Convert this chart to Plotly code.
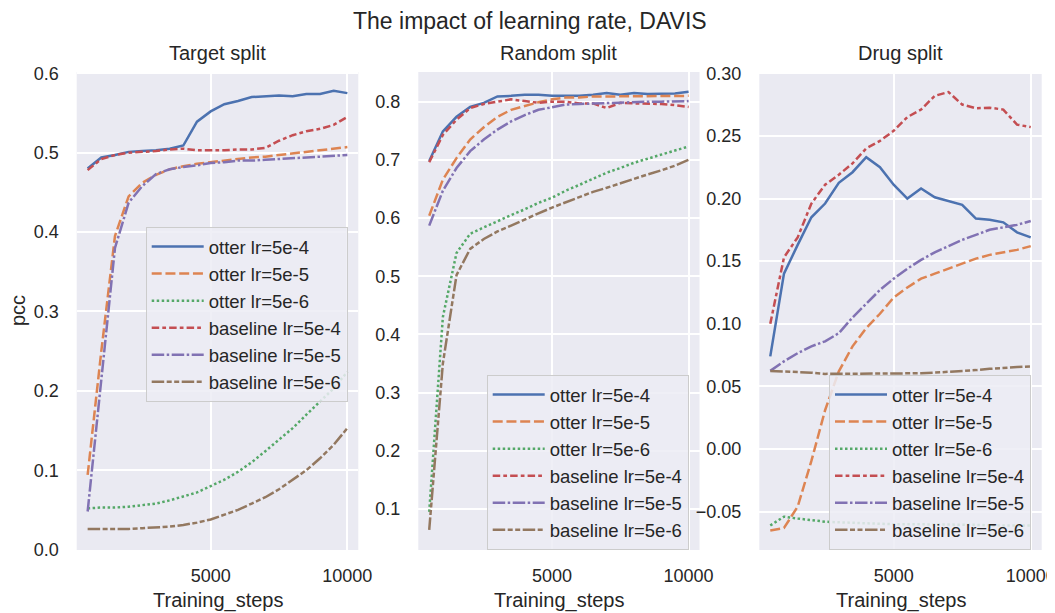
import plotly.graph_objects as go

# ---------------- data ----------------
steps = [500, 1000, 1500, 2000, 2500, 3000, 3500, 4000, 4500, 5000,
         5500, 6000, 6500, 7000, 7500, 8000, 8500, 9000, 9500, 10000]

series_names = ["otter lr=5e-4", "otter lr=5e-5", "otter lr=5e-6",
                "baseline lr=5e-4", "baseline lr=5e-5", "baseline lr=5e-6"]

# Target split
target_otter_5e4 = [0.480, 0.494, 0.497, 0.501, 0.502, 0.503, 0.505, 0.509, 0.539, 0.552,
                    0.561, 0.565, 0.570, 0.571, 0.572, 0.571, 0.574, 0.574, 0.578, 0.575]
target_otter_5e5 = [0.094, 0.250, 0.395, 0.445, 0.462, 0.472, 0.479, 0.483, 0.486, 0.488,
                    0.490, 0.492, 0.494, 0.495, 0.497, 0.499, 0.501, 0.503, 0.505, 0.507]
target_otter_5e6 = [0.052, 0.053, 0.053, 0.054, 0.056, 0.058, 0.062, 0.067, 0.072, 0.080,
                    0.088, 0.098, 0.110, 0.124, 0.138, 0.153, 0.170, 0.186, 0.203, 0.224]
target_base_5e4 = [0.478, 0.492, 0.497, 0.500, 0.501, 0.502, 0.504, 0.505, 0.503, 0.503,
                   0.503, 0.504, 0.504, 0.506, 0.515, 0.522, 0.527, 0.530, 0.535, 0.545]
target_base_5e5 = [0.048, 0.218, 0.380, 0.437, 0.458, 0.473, 0.479, 0.482, 0.484, 0.487,
                   0.488, 0.490, 0.490, 0.491, 0.492, 0.493, 0.494, 0.495, 0.496, 0.497]
target_base_5e6 = [0.026, 0.026, 0.026, 0.026, 0.027, 0.028, 0.029, 0.031, 0.034, 0.038,
                   0.044, 0.050, 0.058, 0.066, 0.076, 0.088, 0.100, 0.115, 0.132, 0.153]

# Random split
random_otter_5e4 = [0.698, 0.749, 0.774, 0.791, 0.798, 0.809, 0.810, 0.812, 0.812, 0.810,
                    0.810, 0.810, 0.812, 0.815, 0.812, 0.815, 0.813, 0.813, 0.814, 0.817]
random_otter_5e5 = [0.604, 0.666, 0.703, 0.735, 0.756, 0.774, 0.786, 0.793, 0.799, 0.804,
                    0.807, 0.807, 0.809, 0.809, 0.809, 0.810, 0.810, 0.810, 0.809, 0.810]
random_otter_5e6 = [0.095, 0.430, 0.540, 0.573, 0.584, 0.595, 0.605, 0.615, 0.626, 0.635,
                    0.647, 0.657, 0.667, 0.678, 0.686, 0.695, 0.702, 0.709, 0.716, 0.723]
random_base_5e4 = [0.696, 0.743, 0.769, 0.789, 0.796, 0.800, 0.804, 0.801, 0.798, 0.800,
                   0.800, 0.797, 0.797, 0.789, 0.798, 0.797, 0.797, 0.796, 0.794, 0.791]
random_base_5e5 = [0.587, 0.647, 0.686, 0.715, 0.735, 0.752, 0.766, 0.777, 0.786, 0.791,
                   0.795, 0.796, 0.797, 0.798, 0.799, 0.799, 0.800, 0.800, 0.800, 0.801]
random_base_5e6 = [0.064, 0.350, 0.502, 0.547, 0.564, 0.577, 0.587, 0.598, 0.608, 0.618,
                   0.627, 0.635, 0.645, 0.652, 0.660, 0.668, 0.675, 0.682, 0.690, 0.700]

# Drug split
drug_otter_5e4 = [0.074, 0.140, 0.163, 0.185, 0.196, 0.2125, 0.221, 0.233, 0.225, 0.211,
                  0.200, 0.208, 0.201, 0.198, 0.195, 0.184, 0.183, 0.181, 0.173, 0.169]
drug_otter_5e5 = [-0.065, -0.063, -0.046, -0.0095, 0.031, 0.062, 0.082, 0.0965, 0.108, 0.121,
                  0.129, 0.136, 0.140, 0.144, 0.148, 0.152, 0.155, 0.157, 0.159, 0.162]
drug_otter_5e6 = [-0.061, -0.054, -0.0555, -0.057, -0.058, -0.0585, -0.059, -0.0595, -0.060, -0.060,
                  -0.060, -0.060, -0.060, -0.0605, -0.0605, -0.0605, -0.061, -0.061, -0.061, -0.061]
drug_base_5e4 = [0.100, 0.153, 0.169, 0.196, 0.211, 0.219, 0.228, 0.240, 0.246, 0.254,
                 0.265, 0.271, 0.282, 0.285, 0.275, 0.272, 0.2725, 0.271, 0.259, 0.257]
drug_base_5e5 = [0.0624, 0.070, 0.0765, 0.082, 0.086, 0.0925, 0.105, 0.116, 0.127, 0.136,
                 0.144, 0.151, 0.157, 0.162, 0.167, 0.171, 0.175, 0.177, 0.179, 0.182]
drug_base_5e6 = [0.0624, 0.062, 0.061, 0.061, 0.060, 0.060, 0.060, 0.060, 0.060, 0.060,
                 0.0605, 0.0605, 0.061, 0.0616, 0.062, 0.063, 0.064, 0.065, 0.0655, 0.066]

panel_titles = ["Target split", "Random split", "Drug split"]
panel_series = [
    [target_otter_5e4, target_otter_5e5, target_otter_5e6, target_base_5e4, target_base_5e5, target_base_5e6],
    [random_otter_5e4, random_otter_5e5, random_otter_5e6, random_base_5e4, random_base_5e5, random_base_5e6],
    [drug_otter_5e4, drug_otter_5e5, drug_otter_5e6, drug_base_5e4, drug_base_5e5, drug_base_5e6],
]
x_ticks = [5000, 10000]
y_ticks = [
    [0.0, 0.1, 0.2, 0.3, 0.4, 0.5, 0.6],
    [0.1, 0.2, 0.3, 0.4, 0.5, 0.6, 0.7, 0.8],
    [-0.05, 0.0, 0.05, 0.10, 0.15, 0.20, 0.25, 0.30],
]

# ---------------- style ----------------
OFF = 8                      # page body margin of the html page
W, H = 1055 - OFF, 613 - OFF
FONT = "Liberation Sans, Arial, sans-serif"
TXT = "#262626"
colors = ["#4C72B0", "#DD8452", "#55A868", "#C44E52", "#8172B3", "#937860"]
dashes = ["solid", "10px,3.75px", "2.5px,2.5px", "7.5px,3.1px,3.75px,3.1px",
          "12.5px,2.5px,2.5px,2.5px", "12.5px,2.5px,5px,2.5px,5px,2.5px"]

x_dom = [(76.7, 358.3), (418.3, 699.5), (759.3, 1041.7)]
y_top, y_bot = 72, 550
y_ranges = [(-0.0005, 0.6016), (0.0295, 0.851), (-0.0806, 0.301)]
y_fmt = [".1f", ".1f", ".2f"]
legend_pos = [(145.7, 227), (486.7, 375), (829, 375)]


def px(x):
    return (x - OFF) / W


def py(y):
    return 1 - (y - OFF) / H


fig = go.Figure()
for p in range(3):
    ax = "" if p == 0 else str(p + 1)
    leg = "legend" if p == 0 else f"legend{p + 1}"
    for s in range(6):
        fig.add_trace(go.Scatter(
            x=steps, y=panel_series[p][s], mode="lines", name=series_names[s],
            line=dict(color=colors[s], width=2.5, dash=dashes[s]),
            xaxis="x" + ax, yaxis="y" + ax, legend=leg,
        ))

layout = dict(
    template="none",
    width=W, height=H, margin=dict(l=0, r=0, t=0, b=0, pad=0, autoexpand=False),
    paper_bgcolor="white", plot_bgcolor="#EAEAF2",
    font=dict(family=FONT, color=TXT, size=18),
    showlegend=True, annotations=[],
)
for p in range(3):
    ax = "" if p == 0 else str(p + 1)
    x0, x1 = x_dom[p]
    layout["xaxis" + ax] = dict(
        domain=[px(x0), px(x1)], range=[100, 10400], anchor="y" + ax,
        tickvals=x_ticks, ticktext=[str(v) for v in x_ticks],
        showgrid=True, gridcolor="white", gridwidth=1.6, zeroline=False,
        showline=False, ticks="", ticklabelstandoff=13, automargin=False,
        ticklabeloverflow="allow",
        tickfont=dict(size=18, color=TXT, family=FONT),
    )
    layout["yaxis" + ax] = dict(
        domain=[py(y_bot), py(y_top)], range=list(y_ranges[p]), anchor="x" + ax,
        tickvals=y_ticks[p], tickformat=y_fmt[p],
        showgrid=True, gridcolor="white", gridwidth=1.6, zeroline=False,
        showline=False, ticks="", ticklabelstandoff=17, automargin=False,
        ticklabeloverflow="allow",
        tickfont=dict(size=18, color=TXT, family=FONT),
    )
    lx, ly = legend_pos[p]
    leg = "legend" if p == 0 else f"legend{p + 1}"
    layout[leg] = dict(
        x=px(lx), y=py(ly), xanchor="left", yanchor="top",
        bgcolor="rgba(236,236,244,0.85)", bordercolor="#cccccc", borderwidth=1,
        font=dict(size=18.5, color=TXT, family=FONT),
        itemwidth=52,
    )
    cx = px((x0 + x1) / 2)
    layout["annotations"].append(dict(
        text=panel_titles[p], x=cx, y=py(53), xref="paper", yref="paper",
        xanchor="center", yanchor="middle", showarrow=False,
        font=dict(size=20, color=TXT, family=FONT)))
    layout["annotations"].append(dict(
        text="Training_steps", x=cx, y=py(600), xref="paper", yref="paper",
        xanchor="center", yanchor="middle", showarrow=False,
        font=dict(size=20, color=TXT, family=FONT)))

layout["annotations"].append(dict(
    text="The impact of learning rate, DAVIS", x=px(530), y=py(21),
    xref="paper", yref="paper", xanchor="center", yanchor="middle", showarrow=False,
    font=dict(size=23, color=TXT, family=FONT)))
layout["annotations"].append(dict(
    text="pcc", x=px(18), y=py(311), xref="paper", yref="paper",
    xanchor="center", yanchor="middle", textangle=-90, showarrow=False,
    font=dict(size=20, color=TXT, family=FONT)))

fig.update_layout(**layout)
fig.write_html("out.html")
